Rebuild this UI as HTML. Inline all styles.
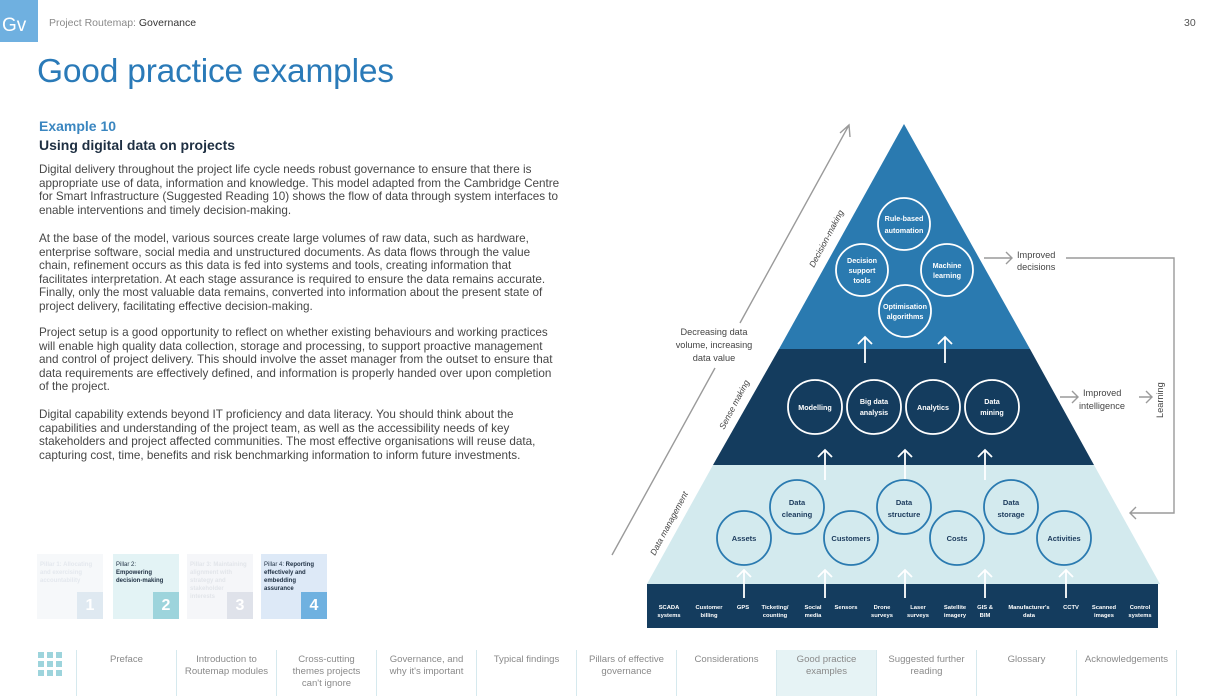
<!DOCTYPE html>
<html><head><meta charset="utf-8"><style>
*{margin:0;padding:0;box-sizing:border-box}
body{width:1218px;height:696px;background:#fff;position:relative;overflow:hidden;font-family:"Liberation Sans",sans-serif}
.a{position:absolute;white-space:nowrap}
.p{position:absolute;left:39px;font-size:11.7px;line-height:13.6px;color:#474747;letter-spacing:0;white-space:nowrap}
.pb{position:absolute;width:66px;height:65px;font-size:6px;line-height:8px;font-weight:bold;padding:7px 3px}
.pb .n{position:absolute;right:0;bottom:0;width:26px;height:27px;color:#fff;font-size:16px;font-weight:bold;text-align:center;line-height:27px}
.nav{position:absolute;top:650px;height:46px;width:100px;text-align:center;font-size:9.6px;line-height:12px;color:#8a8a8a;padding-top:4px;border-right:1px solid #d6e9ee}
</style></head><body>
<div class="a" style="left:0;top:0;width:38px;height:42px;background:#6fb0e0;color:#fff;font-size:19px;line-height:52px;padding-left:2px;overflow:hidden">Gv</div>
<div class="a" style="left:49px;top:17px;font-size:10.5px;color:#8a8a8a">Project Routemap: <span style="color:#333">Governance</span></div>
<div class="a" style="left:1184px;top:17px;font-size:10.5px;color:#555">30</div>
<div class="a" style="left:37px;top:53px;font-size:33.5px;color:#2a7ab8;letter-spacing:-0.2px">Good practice examples</div>
<div class="a" style="left:39px;top:118px;font-size:14px;font-weight:bold;color:#3a86c0">Example 10</div>
<div class="a" style="left:39px;top:137px;font-size:14px;font-weight:bold;color:#1e2f42">Using digital data on projects</div>
<div class="p" style="top:163px">Digital delivery throughout the project life cycle needs robust governance to ensure that there is<br>appropriate use of data, information and knowledge. This model adapted from the Cambridge Centre<br>for Smart Infrastructure (Suggested Reading 10) shows the flow of data through system interfaces to<br>enable interventions and timely decision-making.</div>
<div class="p" style="top:232px">At the base of the model, various sources create large volumes of raw data, such as hardware,<br>enterprise software, social media and unstructured documents. As data flows through the value<br>chain, refinement occurs as this data is fed into systems and tools, creating information that<br>facilitates interpretation. At each stage assurance is required to ensure the data remains accurate.<br>Finally, only the most valuable data remains, converted into information about the present state of<br>project delivery, facilitating effective decision-making.</div>
<div class="p" style="top:326px">Project setup is a good opportunity to reflect on whether existing behaviours and working practices<br>will enable high quality data collection, storage and processing, to support proactive management<br>and control of project delivery. This should involve the asset manager from the outset to ensure that<br>data requirements are effectively defined, and information is properly handed over upon completion<br>of the project.</div>
<div class="p" style="top:408px">Digital capability extends beyond IT proficiency and data literacy. You should think about the<br>capabilities and understanding of the project team, as well as the accessibility needs of key<br>stakeholders and project affected communities. The most effective organisations will reuse data,<br>capturing cost, time, benefits and risk benchmarking information to inform future investments.</div>

<div class="pb" style="left:37px;top:554px;background:#f6f8fa;color:#e4e8ee">Pillar 1: Allocating and exercising accountability<div class="n" style="background:#dfe9f1">1</div></div>
<div class="pb" style="left:113px;top:554px;background:#e3f3f5;color:#1e2f42"><span style="font-weight:normal">Pillar 2:</span><br>Empowering decision-making<div class="n" style="background:#9dd4dc">2</div></div>
<div class="pb" style="left:187px;top:554px;background:#f5f6f9;color:#e2e5ea">Pillar 3: Maintaining alignment with strategy and stakeholder interests<div class="n" style="background:#dfe2ea">3</div></div>
<div class="pb" style="left:261px;top:554px;background:#dde9f7;color:#1e2f42"><span style="font-weight:normal">Pillar 4:</span> Reporting effectively and embedding assurance<div class="n" style="background:#6fb1e0">4</div></div>

<svg class="a" style="left:38px;top:652px" width="26" height="24"><g fill="#9dd4dc"><rect x="0" y="0" width="6" height="6"/><rect x="9" y="0" width="6" height="6"/><rect x="18" y="0" width="6" height="6"/><rect x="0" y="9" width="6" height="6"/><rect x="9" y="9" width="6" height="6"/><rect x="18" y="9" width="6" height="6"/><rect x="0" y="18" width="6" height="6"/><rect x="9" y="18" width="6" height="6"/><rect x="18" y="18" width="6" height="6"/></g></svg>
<div class="a" style="left:76px;top:650px;height:46px;border-left:1px solid #d6e9ee"></div>
<div class="nav" style="left:77px">Preface</div>
<div class="nav" style="left:177px">Introduction to<br>Routemap modules</div>
<div class="nav" style="left:277px">Cross-cutting<br>themes projects<br>can't ignore</div>
<div class="nav" style="left:377px">Governance, and<br>why it's important</div>
<div class="nav" style="left:477px">Typical findings</div>
<div class="nav" style="left:577px">Pillars of effective<br>governance</div>
<div class="nav" style="left:677px">Considerations</div>
<div class="nav" style="left:777px;background:#e6f3f5">Good practice<br>examples</div>
<div class="nav" style="left:877px">Suggested further<br>reading</div>
<div class="nav" style="left:977px">Glossary</div>
<div class="nav" style="left:1077px">Acknowledgements</div>

<svg class="a" style="left:0;top:0" width="1218" height="696" font-family="Liberation Sans, sans-serif">
<polygon points="904,124 1030,349 779,349" fill="#2a7ab0"/>
<polygon points="779,349 1030,349 1094,465 713,465" fill="#143c5e"/>
<polygon points="713,465 1094,465 1160,584 647,584" fill="#d3eaee"/>
<rect x="647" y="584" width="511" height="44" fill="#143c5e"/>
<g fill="none" stroke="#fff" stroke-width="1.8">
<circle cx="904" cy="224" r="26"/><circle cx="862" cy="270" r="26"/><circle cx="947" cy="270" r="26"/><circle cx="905" cy="311" r="26"/>
<circle cx="815" cy="407" r="27"/><circle cx="874" cy="407" r="27"/><circle cx="933" cy="407" r="27"/><circle cx="992" cy="407" r="27"/>
<path d="M865,363V337M858,344l7,-7l7,7M945,363V337M938,344l7,-7l7,7"/>
<path d="M825,480V450M818,457l7,-7l7,7M905,480V450M898,457l7,-7l7,7M985,480V450M978,457l7,-7l7,7"/>
<path d="M744,598V570M737,577l7,-7l7,7M825,598V570M818,577l7,-7l7,7M905,598V570M898,577l7,-7l7,7M985,598V570M978,577l7,-7l7,7M1066,598V570M1059,577l7,-7l7,7"/>
</g>
<g fill="none" stroke="#2a7ab0" stroke-width="1.8">
<circle cx="744" cy="538" r="27"/><circle cx="797" cy="507" r="27"/><circle cx="851" cy="538" r="27"/><circle cx="904" cy="507" r="27"/><circle cx="957" cy="538" r="27"/><circle cx="1011" cy="507" r="27"/><circle cx="1064" cy="538" r="27"/>
</g>
<g fill="#fff" font-size="7.2" font-weight="bold" text-anchor="middle">
<text x="904" y="221">Rule-based</text><text x="904" y="233">automation</text>
<text x="862" y="263">Decision</text><text x="862" y="273">support</text><text x="862" y="283">tools</text>
<text x="947" y="268">Machine</text><text x="947" y="278">learning</text>
<text x="905" y="309">Optimisation</text><text x="905" y="319">algorithms</text>
<text x="815" y="410">Modelling</text>
<text x="874" y="404">Big data</text><text x="874" y="415">analysis</text>
<text x="933" y="410">Analytics</text>
<text x="992" y="404">Data</text><text x="992" y="415">mining</text>
</g>
<g fill="#1b3a5c" font-size="7.5" font-weight="bold" text-anchor="middle">
<text x="744" y="541">Assets</text>
<text x="797" y="505">Data</text><text x="797" y="517">cleaning</text>
<text x="851" y="541">Customers</text>
<text x="904" y="505">Data</text><text x="904" y="517">structure</text>
<text x="957" y="541">Costs</text>
<text x="1011" y="505">Data</text><text x="1011" y="517">storage</text>
<text x="1064" y="541">Activities</text>
</g>
<g fill="#fff" font-size="5.8" font-weight="bold" text-anchor="middle">
<text x="669" y="609">SCADA</text><text x="669" y="617">systems</text>
<text x="709" y="609">Customer</text><text x="709" y="617">billing</text>
<text x="743" y="609">GPS</text>
<text x="775" y="609">Ticketing/</text><text x="775" y="617">counting</text>
<text x="813" y="609">Social</text><text x="813" y="617">media</text>
<text x="846" y="609">Sensors</text>
<text x="882" y="609">Drone</text><text x="882" y="617">surveys</text>
<text x="918" y="609">Laser</text><text x="918" y="617">surveys</text>
<text x="955" y="609">Satellite</text><text x="955" y="617">imagery</text>
<text x="985" y="609">GIS &amp;</text><text x="985" y="617">BIM</text>
<text x="1029" y="609">Manufacturer's</text><text x="1029" y="617">data</text>
<text x="1071" y="609">CCTV</text>
<text x="1104" y="609">Scanned</text><text x="1104" y="617">images</text>
<text x="1140" y="609">Control</text><text x="1140" y="617">systems</text>
</g>
<g fill="none" stroke="#9a9a9a" stroke-width="1.4">
<path d="M612,555L715,368M740,323L849,125M840,133l9,-8l1,12"/>
<path d="M984,258H1012M1006,252l6,6l-6,6"/>
<path d="M1066,258H1174V513H1130M1136,507l-6,6l6,6"/>
<path d="M1060,397H1078M1072,391l6,6l-6,6M1139,397H1152M1146,391l6,6l-6,6"/>
</g>
<g fill="#444" font-size="9.2" text-anchor="middle">
<text x="714" y="335">Decreasing data</text><text x="714" y="348">volume, increasing</text><text x="714" y="361">data value</text>
</g>
<g fill="#444" font-size="9.2">
<text x="1017" y="258">Improved</text><text x="1017" y="270">decisions</text>
<text x="1083" y="396">Improved</text><text x="1079" y="409">intelligence</text>
<text transform="translate(1163,418) rotate(-90)">Learning</text>
</g>
<g fill="#444" font-size="8.6" font-style="italic">
<text transform="translate(814,268) rotate(-62)">Decision-making</text>
<text transform="translate(724,430) rotate(-62)">Sense making</text>
<text transform="translate(655,556) rotate(-62)">Data management</text>
</g>
</svg>
</body></html>
